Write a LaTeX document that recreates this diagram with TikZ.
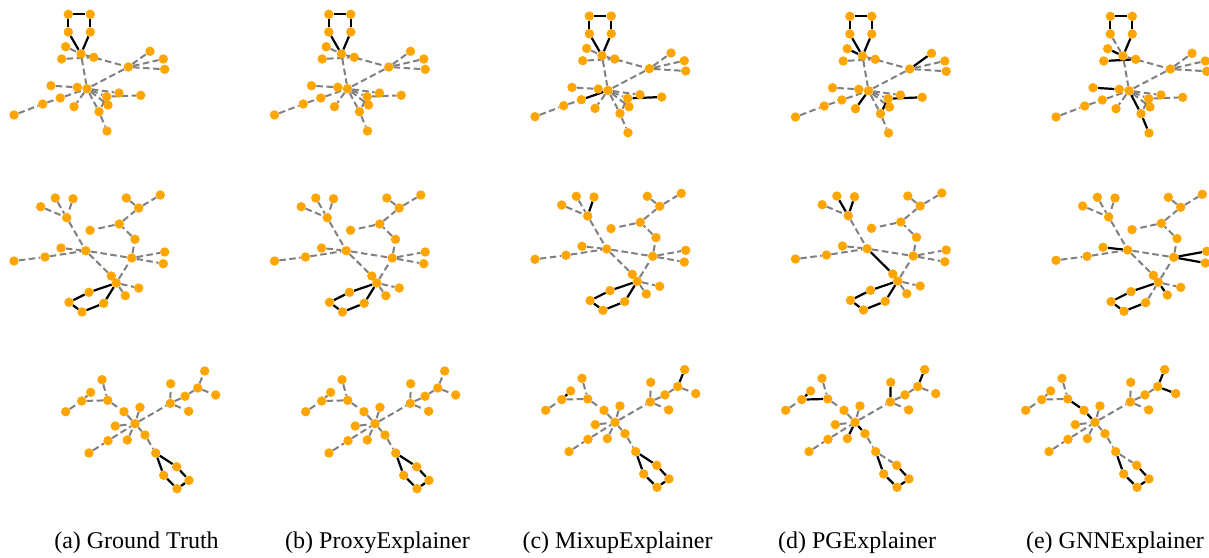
\documentclass[tikz,border=0pt]{standalone}
\usepackage{fontspec}
\setmainfont{Liberation Serif}
\definecolor{vtxorange}{RGB}{255,165,0}
\definecolor{edgegray}{RGB}{128,128,128}
\pgfdeclarelayer{edgelayer}
\pgfsetlayers{edgelayer,main}
\tikzset{
  vtx/.style={circle, fill=vtxorange, draw=none, inner sep=0pt, minimum size=9.4pt},
  gedge/.style={draw=edgegray, line width=2pt, dash pattern=on 6.5pt off 3.5pt},
  bedge/.style={draw=black, solid, line width=2.2pt},
  bold/.style={hl#1/.style=bedge},
  caption/.style={font=\fontsize{24}{28}\selectfont, inner sep=0pt}
}
% one edge; it turns solid black when the key hl<from><to> is set
\newcommand\gE[2]{\draw[gedge, hl#1#2/.try] (#1) -- (#2);}
\newcommand\gV[2]{\node[vtx] (#1) at (#2) {};}

% first graph
\newcommand\graphOne{%
  \gV{T1}{68.3,14.3}\gV{T2}{90.3,14.3}\gV{T3}{68.3,32}\gV{T4}{90.3,32}
  \gV{H}{81,54}\gV{A1}{65.7,46.7}\gV{A2}{61.7,59}\gV{A3}{93.7,57.3}
  \gV{R}{128.3,67}\gV{R1}{150,51.3}\gV{R2}{163.3,59}\gV{R3}{164.7,69.3}
  \gV{C}{87,88.7}\gV{C2}{77.3,87.3}\gV{L1}{51,85.7}\gV{L2}{60.3,98}
  \gV{L3}{42.7,104}\gV{L4}{14,115}\gV{D1}{74,106.7}
  \gV{E1}{106.7,96.7}\gV{E2}{119,93}\gV{E3}{140.7,95.3}
  \gV{E4}{108,105}\gV{E5}{99,111.7}\gV{E6}{107,131}
  \begin{pgfonlayer}{edgelayer}
    \gE{T1}{T2}\gE{T1}{T3}\gE{T2}{T4}\gE{T3}{H}\gE{T4}{H}
    \gE{A1}{H}\gE{A2}{A3}\gE{H}{R}\gE{H}{C}\gE{R}{C}
    \gE{R}{R1}\gE{R}{R2}\gE{R}{R3}
    \gE{L1}{C2}\gE{C2}{C}\gE{L4}{L3}\gE{L3}{L2}\gE{L2}{C}
    \gE{C}{D1}\gE{C}{E1}\gE{C}{E2}\gE{E1}{E3}\gE{C}{E4}
    \gE{C}{E5}\gE{E1}{E5}\gE{E5}{E6}
  \end{pgfonlayer}
}

% second graph
\newcommand\graphTwo{%
  \gV{P1}{55.3,198}\gV{P2}{73,198.7}\gV{P3}{40.7,206.7}\gV{P}{66.7,217.7}
  \gV{Q1}{126.3,198}\gV{Q2}{160.3,195}\gV{Q}{138.7,208}
  \gV{S}{119.3,224}\gV{S1}{90,230.3}\gV{S2}{135,239.3}
  \gV{M}{85.7,250.7}\gV{M1}{61,248}\gV{M2}{45,257}\gV{M3}{14,261}
  \gV{N}{131.7,258}\gV{N1}{164.7,252}\gV{N2}{163.3,263.7}
  \gV{K1}{111.3,276}\gV{K}{116.3,283}\gV{K2}{138.7,288}\gV{K3}{125.3,295.7}
  \gV{G1}{89,292.3}\gV{G2}{69,302.3}\gV{G3}{82,312}\gV{G4}{103.7,303.3}
  \begin{pgfonlayer}{edgelayer}
    \gE{P1}{P}\gE{P2}{P}\gE{P3}{P}\gE{P}{M}\gE{M}{K1}\gE{K1}{K}
    \gE{K}{N}\gE{N}{S2}\gE{S2}{S}\gE{S}{S1}\gE{S}{Q}\gE{Q}{Q1}\gE{Q}{Q2}
    \gE{M}{N}\gE{M1}{M}\gE{M3}{M2}\gE{M2}{M}\gE{N}{N1}\gE{N}{N2}
    \gE{K}{K2}\gE{K}{K3}
    \gE{K}{G1}\gE{G1}{G2}\gE{G2}{G3}\gE{G3}{G4}\gE{G4}{K}
  \end{pgfonlayer}
}

% third graph
\newcommand\graphThree{%
  \gV{U1}{102,379.7}\gV{U}{107.7,400.3}\gV{V1}{90.7,392.3}\gV{V}{81.7,401}
  \gV{V2}{65.7,411.7}\gV{W1}{124,411.7}\gV{W2}{140,407.3}
  \gV{O}{135,423.7}\gV{O1}{115.3,426}\gV{O2}{108,440.7}\gV{O3}{89,453}
  \gV{O4}{127.3,440}\gV{O5}{145,435}
  \gV{X}{170.3,403.3}\gV{X1}{170.7,383.7}\gV{X2}{185,396.3}\gV{X3}{188.7,411.3}
  \gV{Y}{197.7,388}\gV{Y1}{204.7,371}\gV{Y2}{215.7,395}
  \gV{Z}{155.7,453}\gV{Z1}{176.7,466.7}\gV{Z2}{163.7,475.3}
  \gV{Z3}{189,480.3}\gV{Z4}{177,488.7}
  \begin{pgfonlayer}{edgelayer}
    \gE{U1}{U}\gE{V}{U}\gE{V1}{V}\gE{V2}{V}\gE{U}{W1}\gE{W1}{O}\gE{W2}{O}
    \gE{O1}{O}\gE{O3}{O2}\gE{O2}{O}\gE{O4}{O}\gE{O}{X}
    \gE{X}{X1}\gE{X}{X2}\gE{X}{X3}\gE{X2}{Y}\gE{Y}{Y1}\gE{Y}{Y2}
    \gE{O}{O5}\gE{O5}{Z}
    \gE{Z}{Z1}\gE{Z}{Z2}\gE{Z1}{Z3}\gE{Z2}{Z4}\gE{Z3}{Z4}
  \end{pgfonlayer}
}

\begin{document}
\begin{tikzpicture}[x=1pt, y=-1pt]
  \useasboundingbox (0,0) rectangle (1209,557);

  % first row
  \begin{scope}[name prefix=r1a-, bold/.list={T1T2,T1T3,T2T4,T3H,T4H}]
    \graphOne
  \end{scope}
  \begin{scope}[shift={(260.5,0)}, name prefix=r1b-, bold/.list={T1T2,T1T3,T2T4,T3H,T4H}]
    \graphOne
  \end{scope}
  \begin{scope}[shift={(521,1.7)}, name prefix=r1c-, bold/.list={T1T2,T1T3,T2T4,T3H,T4H,L2C,E1E3}]
    \graphOne
  \end{scope}
  \begin{scope}[shift={(781.5,2)}, name prefix=r1d-, bold/.list={T1T2,T1T3,T2T4,T3H,T4H,A1H,RR1,CD1,E1E3,E1E5}]
    \graphOne
  \end{scope}
  \begin{scope}[shift={(1042,2)}, name prefix=r1e-, bold/.list={T1T2,T1T3,T2T4,T4H,A1H,A2A3,L1C2,CE5,E5E6}]
    \graphOne
  \end{scope}

  % second row
  \begin{scope}[name prefix=r2a-, bold/.list={KG1,G1G2,G2G3,G3G4,G4K}]
    \graphTwo
  \end{scope}
  \begin{scope}[shift={(260.5,0)}, name prefix=r2b-, bold/.list={KG1,G1G2,G2G3,G3G4,G4K}]
    \graphTwo
  \end{scope}
  \begin{scope}[shift={(521,-1.7)}, name prefix=r2c-, bold/.list={KG1,G1G2,G2G3,G3G4,G4K,P2P}]
    \graphTwo
  \end{scope}
  \begin{scope}[shift={(781.5,-2)}, name prefix=r2d-, bold/.list={KG1,G1G2,G2G3,G3G4,G4K,P1P,P2P,MK1}]
    \graphTwo
  \end{scope}
  \begin{scope}[shift={(1042,-0.7)}, name prefix=r2e-, bold/.list={KG1,G1G2,G2G3,G3G4,KK3,M1M,NN1,NN2}]
    \graphTwo
  \end{scope}

  % third row
  \begin{scope}[name prefix=r3a-, bold/.list={ZZ1,ZZ2,Z1Z3,Z2Z4,Z3Z4}]
    \graphThree
  \end{scope}
  \begin{scope}[shift={(240,0)}, name prefix=r3b-, bold/.list={ZZ1,ZZ2,Z1Z3,Z2Z4,Z3Z4}]
    \graphThree
  \end{scope}
  \begin{scope}[shift={(480,-1.4)}, name prefix=r3c-, bold/.list={ZZ1,ZZ2,Z1Z3,Z2Z4,Z3Z4,V1V,YY1}]
    \graphThree
  \end{scope}
  \begin{scope}[shift={(720,-1.4)}, name prefix=r3d-, bold/.list={ZZ2,Z1Z3,Z2Z4,Z3Z4,VU,V1V,XX1,YY1,O4O,OO5}]
    \graphThree
  \end{scope}
  \begin{scope}[shift={(960,-1.4)}, name prefix=r3e-, bold/.list={ZZ2,Z1Z3,Z2Z4,Z3Z4,UW1,W1O,YY1,YY2}]
    \graphThree
  \end{scope}

  % captions
  \node[caption] (capa) at (136.5,543) {(a) Ground Truth};
  \node[caption] (capb) at (377.5,543) {(b) ProxyExplainer};
  \node[caption] (capc) at (617.5,543) {(c) MixupExplainer};
  \node[caption] (capd) at (857,543) {(d) PGExplainer};
  \node[caption] (cape) at (1115,543) {(e) GNNExplainer};
\end{tikzpicture}
\end{document}
